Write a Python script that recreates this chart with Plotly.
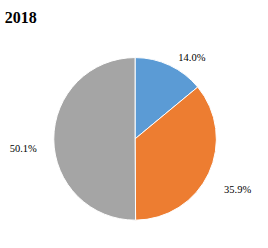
import plotly.graph_objects as go

labels = ["A", "B", "C"]
values = [14.0, 35.9, 50.1]
colors = ["#5B9BD5", "#ED7D31", "#A5A5A5"]
title = "2018"

fig = go.Figure()
# visible pie, no text
fig.add_trace(go.Pie(
    labels=labels,
    values=values,
    sort=False,
    direction="clockwise",
    rotation=0,
    marker=dict(colors=colors, line=dict(color="white", width=1)),
    textposition="none",
    showlegend=False,
    domain=dict(x=[0.198, 0.810], y=[0.105, 0.766]),
))
# invisible larger pie used only to place the outside labels further out
fig.add_trace(go.Pie(
    labels=labels,
    values=values,
    sort=False,
    direction="clockwise",
    rotation=0,
    marker=dict(colors=["rgba(0,0,0,0)"] * len(values), line=dict(width=0)),
    textposition="outside",
    texttemplate="%{percent:.1%}",
    textfont=dict(family="Liberation Serif", size=10.5, color="#000"),
    showlegend=False,
    hoverinfo="skip",
    domain=dict(x=[0.1455, 0.862], y=[0.012, 0.786]),
))
fig.update_layout(
    width=268, height=248,
    margin=dict(l=0, r=0, t=0, b=0),
    paper_bgcolor="white",
    title=dict(text="<b>" + title + "</b>", x=0.018, xanchor="left", y=0.93, yanchor="middle",
               font=dict(family="Liberation Serif", size=16, color="#000")),
)
fig.write_html("out.html")
